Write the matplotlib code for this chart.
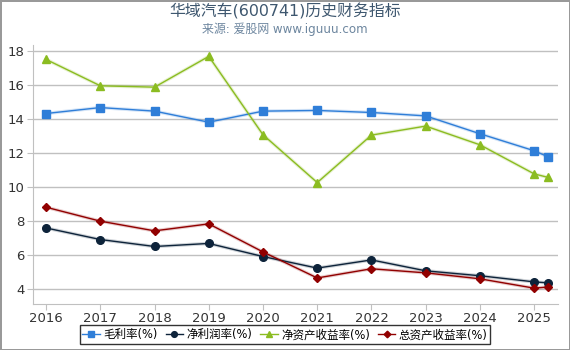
import matplotlib
matplotlib.use('Agg')
import matplotlib.pyplot as plt

plt.rcParams['font.family'] = ['DejaVu Sans', 'Noto Sans CJK SC']

# x positions: annual points, then two 2025 reports
years = [2016, 2017, 2018, 2019, 2020, 2021, 2022, 2023, 2024, 2025.0, 2025.26]
tick_years = [2016, 2017, 2018, 2019, 2020, 2021, 2022, 2023, 2024, 2025]

gross_margin = [14.33, 14.68, 14.47, 13.82, 14.47, 14.51, 14.39, 14.19, 13.14, 12.14, 11.78]
net_margin = [7.60, 6.92, 6.51, 6.69, 5.92, 5.24, 5.72, 5.08, 4.79, 4.43, 4.37]
roe = [17.51, 15.96, 15.88, 17.69, 13.08, 10.27, 13.06, 13.59, 12.49, 10.78, 10.57]
roa = [8.82, 8.00, 7.43, 7.84, 6.19, 4.66, 5.20, 4.96, 4.61, 4.06, 4.13]

series = [
    ('毛利率(%)', gross_margin, '#2f7ed8', 's'),
    ('净利润率(%)', net_margin, '#0d233a', 'o'),
    ('净资产收益率(%)', roe, '#8bbc21', '^'),
    ('总资产收益率(%)', roa, '#910000', 'D'),
]

fig = plt.figure(figsize=(5.7, 3.5), dpi=100)
fig.patch.set_edgecolor('#999999')
fig.patch.set_linewidth(2)
ax = fig.add_axes([0.058, 0.131, 0.921, 0.74])

for name, vals, col, mk in series:
    ax.plot(years, vals, color=col, alpha=0.2, lw=2.5, zorder=2)
    ax.plot(years, vals, color=col, lw=1, marker=mk,
            markersize=4.5 if mk == 'D' else 5.5, label=name, zorder=3)

ax.set_xlim(2015.76, 2025.44)
ax.set_ylim(3.12, 18.35)
ax.set_xticks(tick_years)
ax.set_yticks([4, 6, 8, 10, 12, 14, 16, 18])
ax.grid(axis='y', color='#c0c0c0', lw=1)
ax.set_axisbelow(True)
for s in ['top', 'right']:
    ax.spines[s].set_visible(False)
for s in ['left', 'bottom']:
    ax.spines[s].set_color('#c0c0c0')
ax.tick_params(colors='#c0c0c0', labelcolor='#333333', labelsize=9.5, length=4, pad=2)

fig.text(0.5, 0.968, '华域汽车(600741)历史财务指标', ha='center', va='center',
         fontsize=11.4, color='#3e576f')
fig.text(0.5, 0.917, '来源: 爱股网 www.iguuu.com', ha='center', va='center',
         fontsize=8.6, color='#6d869f')

leg = fig.legend(loc='lower center', bbox_to_anchor=(0.5, 0.0), ncol=4,
                 frameon=True, fancybox=False, fontsize=8.3, handlelength=1.5,
                 handletextpad=0.3, columnspacing=0.7, borderpad=0.25,
                 markerscale=0.75)
leg.get_frame().set_edgecolor('black')
leg.get_frame().set_linewidth(1)

fig.savefig('out.png', dpi=100)
